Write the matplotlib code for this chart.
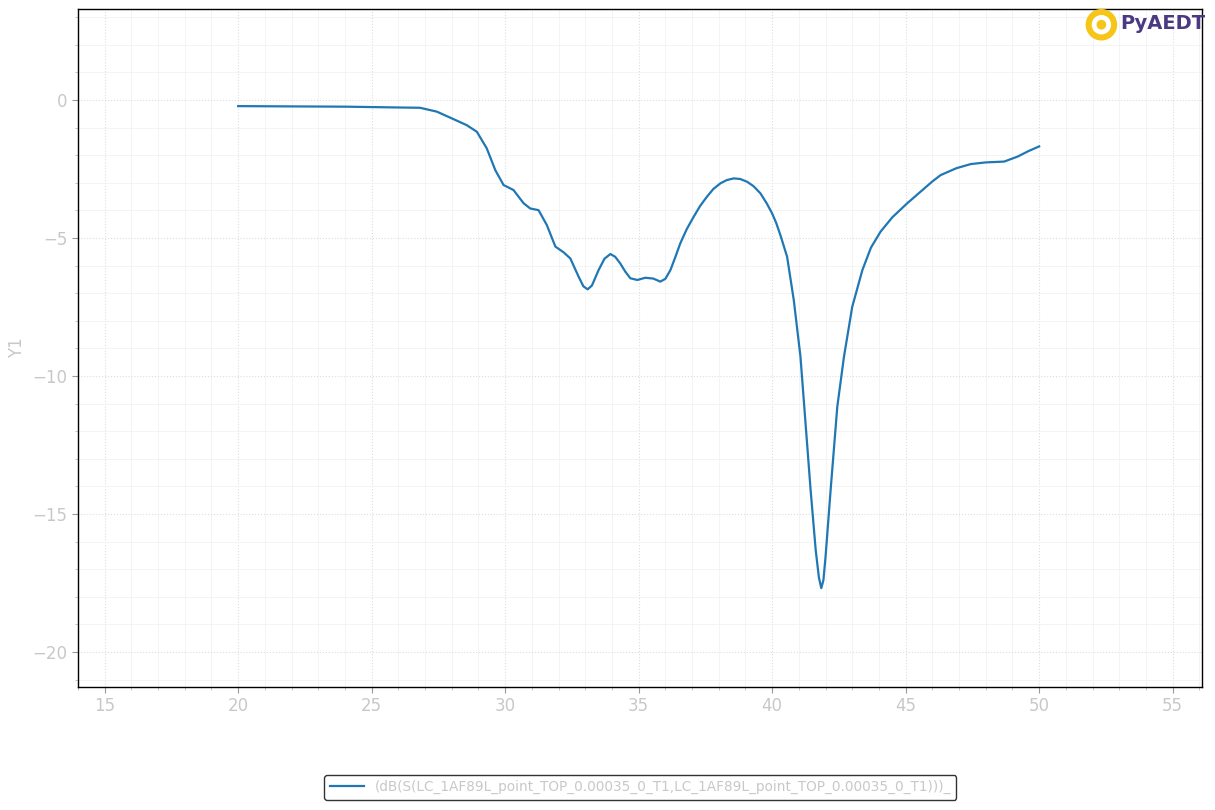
import numpy as np
import matplotlib
matplotlib.use("Agg")
import matplotlib.pyplot as plt
from matplotlib.patches import Ellipse

# frequency (GHz) and S-parameter (dB)
freq = [20.0, 22.0, 24.0, 26.06, 26.81, 27.44, 28.06, 28.56, 28.94, 29.31, 29.63, 29.94,
        30.31, 30.69, 30.94, 31.25, 31.56, 31.88, 32.19, 32.44, 32.75, 32.93, 33.09,
        33.25, 33.5, 33.72, 33.94, 34.12, 34.31, 34.5, 34.69, 34.95, 35.25, 35.55,
        35.81, 36.0, 36.19, 36.37, 36.56, 36.8, 37.06, 37.3, 37.56, 37.8, 38.06,
        38.3, 38.56, 38.8, 39.06, 39.3, 39.56, 39.8, 40.0, 40.15, 40.31, 40.56,
        40.81, 41.06, 41.25, 41.44, 41.63, 41.75, 41.84, 41.92, 42.0, 42.19, 42.44,
        42.69, 43.0, 43.38, 43.7, 44.06, 44.5, 45.06, 45.56, 46.0, 46.31, 46.9,
        47.44, 48.0, 48.69, 49.19, 49.6, 50.0]
s11_db = [-0.22, -0.23, -0.24, -0.27, -0.28, -0.42, -0.69, -0.91, -1.15, -1.75, -2.54, -3.08,
          -3.26, -3.74, -3.93, -3.99, -4.53, -5.31, -5.52, -5.74, -6.40, -6.75, -6.86,
          -6.72, -6.16, -5.75, -5.58, -5.68, -5.92, -6.22, -6.46, -6.52, -6.44, -6.47,
          -6.58, -6.48, -6.16, -5.7, -5.19, -4.68, -4.23, -3.84, -3.50, -3.22, -3.02,
          -2.9, -2.84, -2.86, -2.96, -3.12, -3.38, -3.75, -4.11, -4.45, -4.9, -5.68,
          -7.25, -9.30, -11.71, -14.13, -16.30, -17.3, -17.69, -17.4, -16.55, -14.13, -11.11,
          -9.30, -7.49, -6.16, -5.35, -4.77, -4.25, -3.74, -3.32, -2.95, -2.72, -2.47,
          -2.32, -2.26, -2.23, -2.05, -1.85, -1.68]

trace_name = "(dB(S(LC_1AF89L_point_TOP_0.00035_0_T1,LC_1AF89L_point_TOP_0.00035_0_T1)))_"

fig = plt.figure(figsize=(12.15, 8.1), dpi=100)
ax = fig.add_axes([0.0642, 0.1519, 0.9251, 0.837])

ax.plot(freq, s11_db, color="#1f77b4", lw=1.6, label=trace_name)

ax.set_xlim(14.0, 56.1)
ax.set_ylim(-21.27, 3.3)
ax.set_xticks([15, 20, 25, 30, 35, 40, 45, 50, 55])
ax.set_yticks([-20, -15, -10, -5, 0])
ax.set_xticks(np.arange(14, 57, 1), minor=True)
ax.set_yticks(np.arange(-21, 4, 1), minor=True)

ax.grid(True, which="major", color="#dddddd", linestyle=":", linewidth=0.8)
ax.grid(True, which="minor", color="#f2f2f2", linestyle="-", linewidth=0.6)
ax.set_axisbelow(True)

ax.tick_params(axis="both", which="major", labelsize=12, labelcolor="#c8c8c8",
               color="#999999", length=4)
ax.tick_params(axis="both", which="minor", color="#bbbbbb", length=2)
for s in ax.spines.values():
    s.set_color("black")
    s.set_linewidth(1.0)

ax.set_ylabel("Y1", color="#c8c8c8", fontsize=12, labelpad=5)

leg = fig.legend(loc="center", bbox_to_anchor=(0.527, 0.028), fontsize=9.8,
                 frameon=True, fancybox=True, handlelength=2.5)
leg.get_frame().set_edgecolor("black")
leg.get_frame().set_linewidth(1.0)
for t in leg.get_texts():
    t.set_color("#c8c8c8")

# logo in the upper right corner
for w, c in [(0.026, "#f5c518"), (0.016, "white"), (0.008, "#f5c518")]:
    fig.patches.append(Ellipse((0.9065, 0.9695), w, w * 1.5, transform=fig.transFigure,
                               facecolor=c, edgecolor="none"))
fig.text(0.922, 0.971, "PyAEDT", color="#4b3a82", fontsize=14, fontweight="bold",
         ha="left", va="center")

fig.savefig("out.png", dpi=100)
